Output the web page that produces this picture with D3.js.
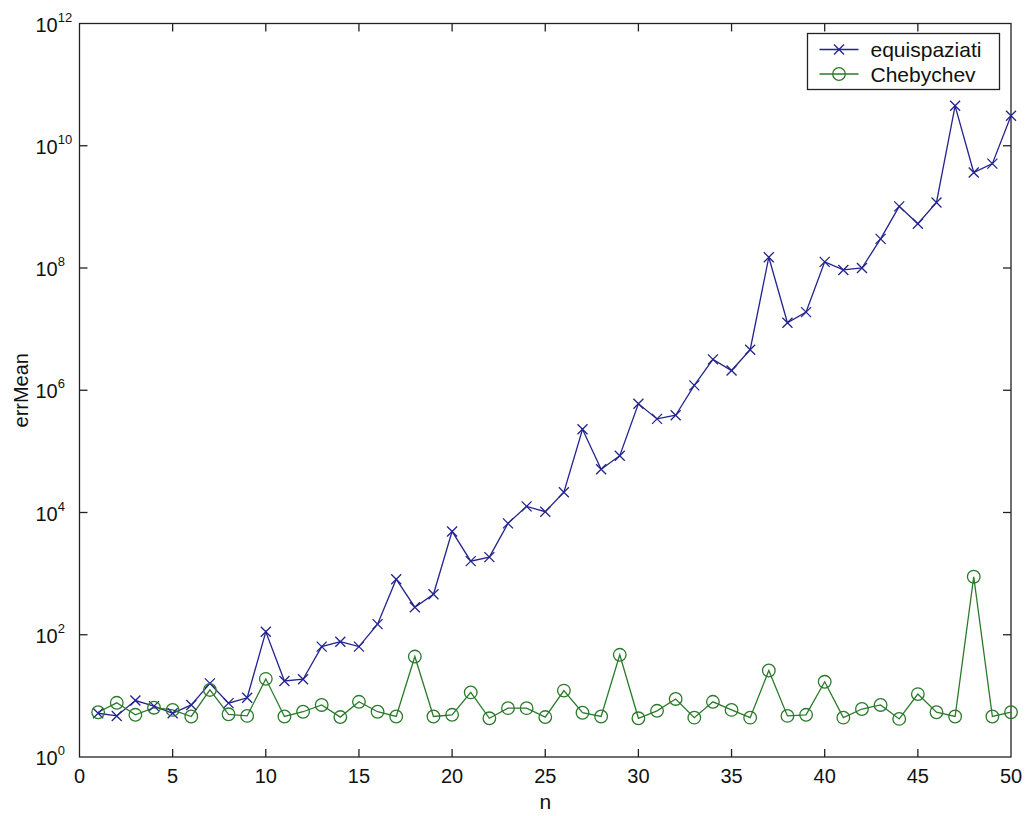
<!DOCTYPE html>
<html>
<head>
<meta charset="utf-8">
<script src="https://cdn.jsdelivr.net/npm/d3@7"></script>
<style>
  body { margin: 0; background: #fff; }
  svg text { font-family: "Liberation Sans", Arial, sans-serif; fill: #111; }
</style>
</head>
<body>
<div id="chart"></div>
<script>
// n = 1..50
const nValues = d3.range(1, 51);

const equispaziati = [
    5.2, 4.7, 8.4, 6.8, 5.2, 7.1, 16, 7.6, 9.3, 112,
    17.5, 18.7, 64, 77, 64, 149, 810, 282, 460, 4900,
    1600, 1860, 6640, 12600, 10300, 21500, 2.3e5, 5.1e4, 8.5e4, 6e5,
    3.4e5, 3.9e5, 1.2e6, 3.2e6, 2.1e6, 4.6e6, 1.5e8, 1.27e7, 1.9e7, 1.26e8,
    9.3e7, 1e8, 3e8, 1.02e9, 5.3e8, 1.18e9, 4.5e10, 3.65e9, 5.1e9, 3.1e10
];

const chebychev = [
    5.4, 7.7, 4.9, 6.4, 5.9, 4.6, 12.5, 5.0, 4.7, 19,
    4.6, 5.5, 7.1, 4.5, 8.0, 5.5, 4.6, 44, 4.6, 4.9,
    11.4, 4.3, 6.3, 6.3, 4.5, 12.2, 5.3, 4.6, 47, 4.3,
    5.7, 8.9, 4.4, 8.0, 5.9, 4.4, 26, 4.7, 4.9, 17,
    4.4, 6.1, 7.1, 4.2, 10.7, 5.4, 4.6, 890, 4.6, 5.4
];

const xTicks = [0, 5, 10, 15, 20, 25, 30, 35, 40, 45, 50];
const yExponents = [0, 2, 4, 6, 8, 10, 12];
const seriesNames = ['equispaziati', 'Chebychev'];

const blue = '#23238f';
const green = '#2a7a2a';

const W = 1027, H = 816;
const margin = { top: 23.5, right: 16, bottom: 59, left: 79.5 };
const width = W - margin.left - margin.right;
const height = H - margin.top - margin.bottom;

const svg = d3.select('#chart')
    .append('svg')
    .attr('width', W)
    .attr('height', H)
    .append('g')
    .attr('transform', `translate(${margin.left},${margin.top})`);

const x = d3.scaleLinear().domain([0, 50]).range([0, width]);
const y = d3.scaleLog().domain([1, 1e12]).range([height, 0]);

// axes box
svg.append('rect')
    .attr('width', width)
    .attr('height', height)
    .attr('fill', 'none')
    .attr('stroke', '#222')
    .attr('stroke-width', 1.3);

const tickLen = 8;
// x ticks (bottom + top, inward)
xTicks.forEach(t => {
    if (t === 0 || t === 50) return;
    svg.append('line').attr('x1', x(t)).attr('x2', x(t)).attr('y1', height).attr('y2', height - tickLen)
        .attr('stroke', '#222').attr('stroke-width', 1.3);
    svg.append('line').attr('x1', x(t)).attr('x2', x(t)).attr('y1', 0).attr('y2', tickLen)
        .attr('stroke', '#222').attr('stroke-width', 1.3);
});
xTicks.forEach(t => {
    svg.append('text')
        .attr('x', x(t))
        .attr('y', height + 26)
        .attr('text-anchor', 'middle')
        .style('font-size', '20px')
        .text(t);
});

// y ticks (left + right, inward)
yExponents.forEach(e => {
    const v = Math.pow(10, e);
    if (e !== 0 && e !== 12) {
        svg.append('line').attr('x1', 0).attr('x2', tickLen).attr('y1', y(v)).attr('y2', y(v))
            .attr('stroke', '#222').attr('stroke-width', 1.3);
        svg.append('line').attr('x1', width).attr('x2', width - tickLen).attr('y1', y(v)).attr('y2', y(v))
            .attr('stroke', '#222').attr('stroke-width', 1.3);
    }
    const label = svg.append('text')
        .attr('x', -44)
        .attr('y', y(v) + 8)
        .attr('text-anchor', 'start')
        .style('font-size', '20px');
    label.append('tspan').text('10');
    label.append('tspan')
        .attr('dy', -10)
        .style('font-size', '13px')
        .text(e);
});

// axis titles
svg.append('text')
    .attr('x', width / 2)
    .attr('y', height + 52)
    .attr('text-anchor', 'middle')
    .style('font-size', '21px')
    .text('n');

svg.append('text')
    .attr('transform', `translate(${-51.5},${height / 2}) rotate(-90)`)
    .attr('text-anchor', 'middle')
    .style('font-size', '20px')
    .text('errMean');

// lines
const line = d3.line()
    .x((d, i) => x(nValues[i]))
    .y(d => y(d));

svg.append('path')
    .datum(equispaziati)
    .attr('d', line)
    .attr('fill', 'none')
    .attr('stroke', blue)
    .attr('stroke-width', 1.3);

svg.append('path')
    .datum(chebychev)
    .attr('d', line)
    .attr('fill', 'none')
    .attr('stroke', green)
    .attr('stroke-width', 1.3);

// x markers
const m = 5;
svg.selectAll('.xmark')
    .data(equispaziati)
    .enter()
    .append('path')
    .attr('class', 'xmark')
    .attr('transform', (d, i) => `translate(${x(nValues[i])},${y(d)})`)
    .attr('d', `M${-m},${-m}L${m},${m}M${-m},${m}L${m},${-m}`)
    .attr('stroke', blue)
    .attr('stroke-width', 1.3);

// circle markers
svg.selectAll('.omark')
    .data(chebychev)
    .enter()
    .append('circle')
    .attr('class', 'omark')
    .attr('cx', (d, i) => x(nValues[i]))
    .attr('cy', d => y(d))
    .attr('r', 6.3)
    .attr('fill', 'none')
    .attr('stroke', green)
    .attr('stroke-width', 1.3);

// legend
const lx = 807.5 - margin.left, ly = 33.5 - margin.top;
const legend = svg.append('g').attr('transform', `translate(${lx},${ly})`);
legend.append('rect')
    .attr('width', 192)
    .attr('height', 56)
    .attr('fill', '#fff')
    .attr('stroke', '#222')
    .attr('stroke-width', 1.3);

seriesNames.forEach((name, i) => {
    const cy = 16 + i * 24.5;
    const col = i === 0 ? blue : green;
    legend.append('line')
        .attr('x1', 12).attr('x2', 51).attr('y1', cy).attr('y2', cy)
        .attr('stroke', col).attr('stroke-width', 1.3);
    if (i === 0) {
        legend.append('path')
            .attr('transform', `translate(31.5,${cy})`)
            .attr('d', `M${-m},${-m}L${m},${m}M${-m},${m}L${m},${-m}`)
            .attr('stroke', col).attr('stroke-width', 1.3);
    } else {
        legend.append('circle')
            .attr('cx', 31.5).attr('cy', cy).attr('r', 6.3)
            .attr('fill', 'none').attr('stroke', col).attr('stroke-width', 1.3);
    }
    legend.append('text')
        .attr('x', 63)
        .attr('y', cy + 7.5)
        .style('font-size', '21px')
        .text(name);
});
</script>
</body>
</html>
